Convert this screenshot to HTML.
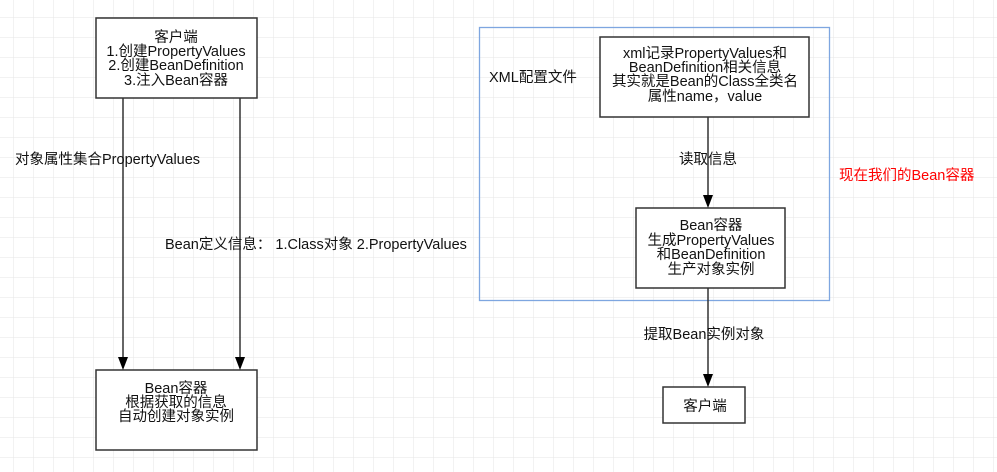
<!DOCTYPE html>
<html><head><meta charset="utf-8"><style>
html,body{margin:0;padding:0;background:#fff;}
svg{display:block;font-family:"Liberation Sans","Noto Sans CJK SC",sans-serif;}
</style></head><body>
<svg width="997" height="472" viewBox="0 0 997 472" xmlns="http://www.w3.org/2000/svg">
<defs>
<pattern id="g" x="13" y="17" width="20" height="20" patternUnits="userSpaceOnUse">
<path d="M0 0H20M0 0V20" stroke="#e6e6e6" stroke-width="1" fill="none"/>
</pattern>
</defs>
<rect width="997" height="472" fill="url(#g)"/>
<g stroke="#333" stroke-width="1.5" fill="#fff">
<rect x="96" y="18" width="161" height="80"/>
<rect x="96" y="370" width="161" height="80"/>
</g>
<rect x="479.5" y="27.5" width="350" height="273" fill="none" stroke="#7ea6e0" stroke-width="1.3"/>
<g stroke="#333" stroke-width="1.5" fill="#fff">
<rect x="600" y="37" width="209" height="80"/>
<rect x="636" y="208" width="149" height="80"/>
<rect x="663" y="387" width="82" height="36"/>
</g>
<g stroke="#333" stroke-width="1.5">
<line x1="123" y1="98" x2="123" y2="358"/>
<line x1="240" y1="98" x2="240" y2="358"/>
<line x1="708" y1="117" x2="708" y2="196"/>
<line x1="708" y1="288" x2="708" y2="375"/>
</g>
<g fill="#000">
<path d="M118 357L128 357L123 370Z"/>
<path d="M235 357L245 357L240 370Z"/>
<path d="M703 195L713 195L708 208Z"/>
<path d="M703 374L713 374L708 387Z"/>
</g>
<g font-size="14.5" fill="#111" text-anchor="middle">
<text x="176" y="42">客户端</text>
<text x="176" y="56">1.创建PropertyValues</text>
<text x="176" y="70">2.创建BeanDefinition</text>
<text x="176" y="85">3.注入Bean容器</text>
<text x="176" y="393">Bean容器</text>
<text x="176" y="407">根据获取的信息</text>
<text x="176" y="421">自动创建对象实例</text>
<text x="705" y="58">xml记录PropertyValues和</text>
<text x="705" y="72">BeanDefinition相关信息</text>
<text x="705" y="86">其实就是Bean的Class全类名</text>
<text x="705" y="101">属性name，value</text>
<text x="711" y="230">Bean容器</text>
<text x="711" y="245">生成PropertyValues</text>
<text x="711" y="259">和BeanDefinition</text>
<text x="711" y="274">生产对象实例</text>
<text x="705" y="411">客户端</text>
<text x="708" y="164">读取信息</text>
<text x="704" y="339">提取Bean实例对象</text>
</g>
<g font-size="14.5" fill="#111">
<text x="15" y="164">对象属性集合PropertyValues</text>
<text x="165" y="249">Bean定义信息： 1.Class对象 2.PropertyValues</text>
<text x="489" y="82">XML配置文件</text>
</g>
<text x="839" y="180" font-size="14.5" fill="#ff0000">现在我们的Bean容器</text>
</svg>
</body></html>
